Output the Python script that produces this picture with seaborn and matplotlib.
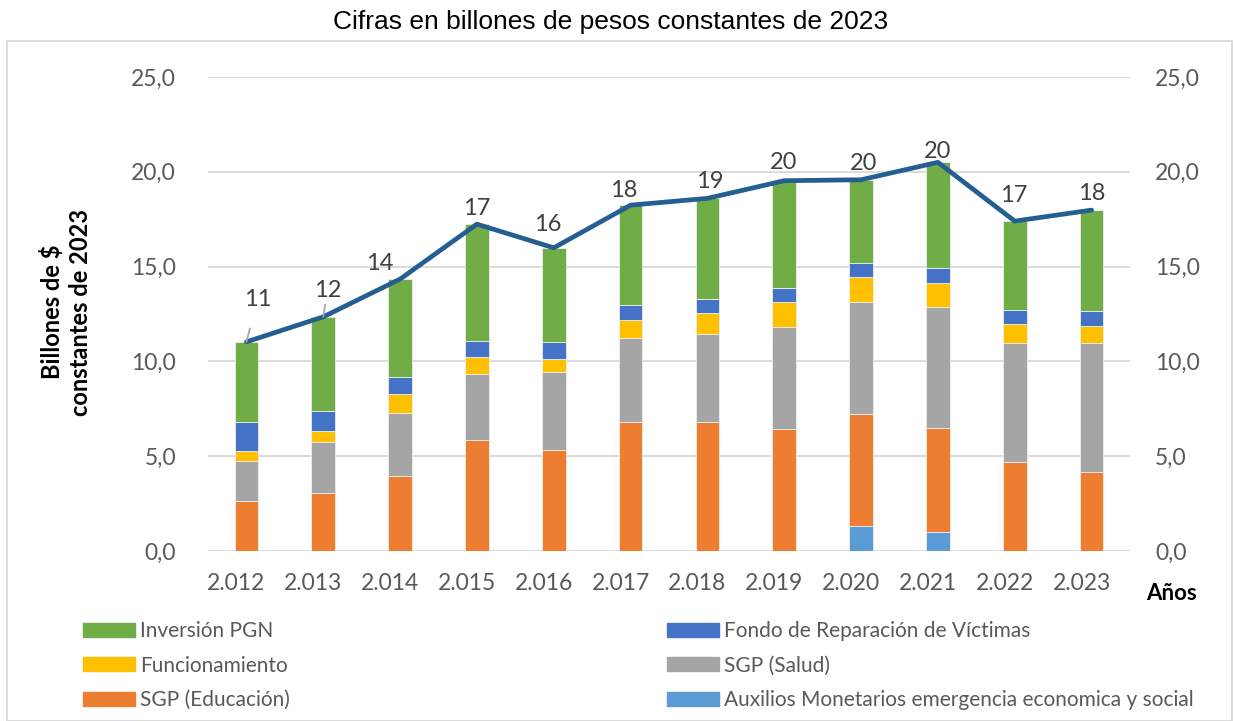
import numpy as np
import pandas as pd
import matplotlib
matplotlib.use("Agg")
import matplotlib.pyplot as plt
import matplotlib.patches as mpatches
import matplotlib.transforms as mtransforms
import seaborn as sns

# ---------------- data ----------------
years = ["2.012", "2.013", "2.014", "2.015", "2.016", "2.017",
         "2.018", "2.019", "2.020", "2.021", "2.022", "2.023"]
auxilios = [0, 0, 0, 0, 0, 0, 0, 0, 1.32, 1.00, 0, 0]
educacion = [2.62, 3.08, 3.93, 5.84, 5.31, 6.78, 6.83, 6.46, 5.88, 5.49, 4.72, 4.15]
salud = [2.11, 2.67, 3.37, 3.47, 4.12, 4.43, 4.64, 5.36, 5.91, 6.39, 6.26, 6.83]
funcionamiento = [0.55, 0.58, 0.97, 0.91, 0.72, 0.98, 1.06, 1.30, 1.32, 1.25, 1.00, 0.91]
fondo = [1.53, 1.03, 0.93, 0.86, 0.88, 0.81, 0.74, 0.76, 0.74, 0.77, 0.74, 0.77]
inversion = [4.22, 4.99, 5.14, 6.16, 4.96, 5.24, 5.33, 5.65, 4.41, 5.60, 4.68, 5.32]
total_labels = ["11", "12", "14", "17", "16", "18", "19", "20", "20", "20", "17", "18"]
ytick_values = [0, 5, 10, 15, 20, 25]
ytick_labels = ["0,0", "5,0", "10,0", "15,0", "20,0", "25,0"]

series_names = ["Auxilios Monetarios emergencia economica y social", "SGP (Educación)",
                "SGP (Salud)", "Funcionamiento", "Fondo de Reparación de Víctimas",
                "Inversión PGN"]
series_values = [auxilios, educacion, salud, funcionamiento, fondo, inversion]
series_colors = ["#5B9BD5", "#ED7D31", "#A5A5A5", "#FFC000", "#4472C4", "#70AD47"]

# label offsets (pixels) relative to line points — style only
label_offsets = [(11, 42), (4, 26), (-20, 16), (0, 16), (-6, 23), (-7, 15),
                 (2, 17), (-1, 18), (2, 16), (0, 11), (-1, 26), (0, 17)]

# ---------------- styling ----------------
sns.set_theme(style="white")
plt.rcParams['font.family'] = ['Lato', 'DejaVu Sans']
TICK = "#595959"

fig = plt.figure(figsize=(12.33, 7.21), dpi=100)
ax = fig.add_axes([208/1233, 1-551/721, (1130-208)/1233, (551-77)/721])

df = pd.DataFrame({"year": years})
bottom = np.zeros(len(years))
for name, vals, col in zip(series_names, series_values, series_colors):
    vals = np.asarray(vals, dtype=float)
    sns.barplot(x=df["year"], y=vals, bottom=bottom, color=col, width=0.31,
                saturation=1, errorbar=None, ax=ax, edgecolor="#eeeeee",
                linewidth=0.6, zorder=3)
    bottom = bottom + vals
totals = bottom

xpos = np.arange(len(years))
sns.lineplot(x=xpos, y=totals, ax=ax, color="#255E91", linewidth=3.4,
             sort=False, zorder=5, solid_capstyle="round", solid_joinstyle="round")

for i, (lab, (dx, dy)) in enumerate(zip(total_labels, label_offsets)):
    if i < 2:
        ax.annotate(lab, xy=(xpos[i], totals[i]), xytext=(dx, dy),
                    textcoords="offset pixels", ha="center", va="center",
                    fontsize=17, color="#404040", zorder=6,
                    arrowprops=dict(arrowstyle="-", color="#A6A6A6", lw=1.3,
                                    shrinkA=11, shrinkB=0))
    else:
        ax.annotate(lab, xy=(xpos[i], totals[i]), xytext=(dx, dy),
                    textcoords="offset pixels", ha="center", va="center",
                    fontsize=17, color="#404040", zorder=6)

ax.set_xlim(-0.5, len(years) - 0.5)
ax.set_ylim(0, 25)
ax.set_yticks(ytick_values)
ax.set_yticklabels(ytick_labels)
ax.grid(axis="y", color="#D9D9D9", linewidth=1.3, zorder=0)
ax.set_axisbelow(True)
for s in ax.spines.values():
    s.set_visible(False)
ax.tick_params(axis="y", length=0, pad=32/1.389, labelsize=16.5, labelcolor=TICK)
ax.tick_params(axis="x", length=0, pad=22/1.389, labelsize=16.5, labelcolor=TICK)
shift = mtransforms.ScaledTranslation(-10/100, 0, fig.dpi_scale_trans)
for t in ax.get_xticklabels():
    t.set_transform(t.get_transform() + shift)
ax.set_xlabel("")
ax.set_ylabel("")

ax2 = ax.twinx()
ax2.set_ylim(0, 25)
ax2.set_yticks(ytick_values)
ax2.set_yticklabels(ytick_labels)
for s in ax2.spines.values():
    s.set_visible(False)
ax2.tick_params(axis="y", length=0, pad=25/1.389, labelsize=16.5, labelcolor=TICK)
ax2.grid(False)

# y label
fig.text(66/1233, 1-312/721, "Billones de $\nconstantes de 2023", rotation=90,
         ha="center", va="center", fontsize=17, fontweight="bold", color="black",
         multialignment="center", linespacing=1.3)
# x label
fig.text(1171/1233, 1-593/721, "Años", ha="center", va="center", fontsize=16,
         fontweight="bold", color="black")
# title
fig.text(611/1233, 1-22/721, "Cifras en billones de pesos constantes de 2023",
         ha="center", va="center", fontsize=19, color="black",
         family=["Liberation Sans", "DejaVu Sans"])

# border
fig.add_artist(mpatches.Rectangle((7/1233, 0), (1232-7)/1233, 1-41/721,
                                  transform=fig.transFigure, fill=False,
                                  edgecolor="#D9D9D9", linewidth=1.3))

# legends
def mk(idx):
    return [mpatches.Patch(color=series_colors[i]) for i in idx], [series_names[i] for i in idx]

fs = 15
fpx = fs * 100 / 72
for idx, xl in (([5, 3, 1], 83), ([4, 2, 0], 667)):
    h, l = mk(idx)
    leg = fig.legend(h, l, loc="upper left", bbox_to_anchor=(xl/1233, 1-621/721),
                     frameon=False, fontsize=fs, borderpad=0, borderaxespad=0,
                     handlelength=52/fpx, handleheight=14/fpx, handletextpad=5/fpx,
                     labelspacing=(35.5 - 1.0*fpx)/fpx, labelcolor=TICK)

fig.savefig("out.png", dpi=100)
